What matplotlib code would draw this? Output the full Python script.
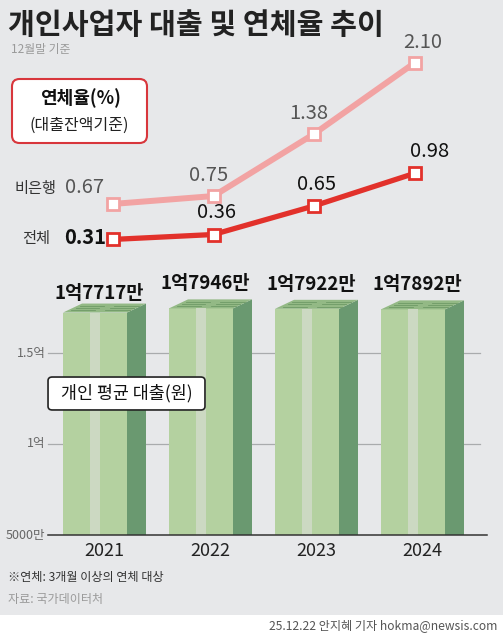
import matplotlib
matplotlib.use("Agg")
import matplotlib.pyplot as plt
from matplotlib.patches import Rectangle, Polygon, FancyBboxPatch

# ---------------- data ----------------
years = ["2021", "2022", "2023", "2024"]
loan_eok = [1.7717, 1.7946, 1.7922, 1.7892]          # 억 원
loan_labels = ["1억7717만", "1억7946만", "1억7922만", "1억7892만"]
rate_nonbank = [0.67, 0.75, 1.38, 2.10]
rate_total = [0.31, 0.36, 0.65, 0.98]
rate_nonbank_lbl = ["0.67", "0.75", "1.38", "2.10"]
rate_total_lbl = ["0.31", "0.36", "0.65", "0.98"]
ytick_vals = [0.5, 1.0, 1.5]
ytick_lbls = ["5000만", "1억", "1.5억"]

KR = ["Noto Sans CJK KR", "DejaVu Sans"]
plt.rcParams["font.family"] = KR

BG = "#e7e8ea"
W, H = 503, 637
fig = plt.figure(figsize=(W / 100, H / 100), dpi=100, facecolor=BG)

# white footer band
fig.patches.append(Rectangle((0, 0), 1, 22 / H, transform=fig.transFigure,
                             facecolor="white", edgecolor="none", zorder=0))

# ---------------- bar axes ----------------
px_per_unit = 106.0
x0 = -104.5 / px_per_unit
x1 = (W - 104.5) / px_per_unit
bot_px, top_px = 535, 271
axb = fig.add_axes([0, 1 - bot_px / H, 1, (bot_px - top_px) / H])
axb.set_facecolor("none")
ylo = 0.5
yhi = ylo + (bot_px - top_px) / 182.0
axb.set_xlim(x0, x1)
axb.set_ylim(ylo, yhi)
for s in axb.spines.values():
    s.set_visible(False)
axb.set_xticks([])
axb.set_yticks([])

front_w = 64 / px_per_unit
side_w = 19 / px_per_unit
depth = 9 / 182.0
stripe_l = 27 / px_per_unit
stripe_w = 10 / px_per_unit

# gridlines
for v in ytick_vals[1:]:
    axb.plot([-57 / px_per_unit, (480 - 104.5) / px_per_unit], [v, v],
             color="#a9abad", lw=0.9, zorder=1)

for i, v in enumerate(loan_eok):
    left = i - (front_w + side_w) / 2
    ftop = v - depth
    axb.add_patch(Rectangle((left, ylo), front_w, ftop - ylo,
                            facecolor="#b4d1a0", edgecolor="none", zorder=2))
    axb.add_patch(Rectangle((left + stripe_l, ylo), stripe_w, ftop - ylo,
                            facecolor="#ccd9c2", edgecolor="none", zorder=3))
    axb.add_patch(Polygon([(left + front_w, ylo), (left + front_w + side_w, ylo),
                           (left + front_w + side_w, v), (left + front_w, ftop)],
                          closed=True, facecolor="#6a9970", edgecolor="none", zorder=2))
    axb.add_patch(Polygon([(left, ftop), (left + front_w, ftop),
                           (left + front_w + side_w, v), (left + side_w, v)],
                          closed=True, facecolor="#93b985", edgecolor="none", zorder=2))
    # money texture on top
    for k in range(1, 4):
        f = k / 4
        axb.plot([left + side_w * f + 0.03, left + front_w * 0.42 + side_w * f],
                 [ftop + depth * f, ftop + depth * f], color="#6f9a66", lw=0.6, zorder=3)
        axb.plot([left + front_w * 0.58 + side_w * f, left + front_w + side_w * f - 0.02],
                 [ftop + depth * f, ftop + depth * f], color="#6f9a66", lw=0.6, zorder=3)
    axb.text(i - 0.05 + (0.0 if i == 0 else 0), v + 0.085 - (0.03 if i == 0 else 0),
             loan_labels[i], ha="center", va="center", fontsize=13.5,
             fontweight="bold", color="#111", zorder=5)
    axb.text(i, ylo - 0.09, years[i], ha="center", va="center", fontsize=13,
             color="#222")

# axis line and tick labels
axb.plot([-57 / px_per_unit, (487 - 104.5) / px_per_unit], [ylo, ylo],
         color="#333", lw=1.1, zorder=4, clip_on=False)
for v, t in zip(ytick_vals, ytick_lbls):
    axb.text(-59 / px_per_unit, v, t, ha="right", va="center", fontsize=9,
             color="#666")

axb.add_patch(FancyBboxPatch((-57 / px_per_unit + 0.005, 1.187), 158 / px_per_unit - 0.01, 0.181,
                             boxstyle="round,pad=0,rounding_size=0.04",
                             facecolor="white", edgecolor="#222", lw=1.2, zorder=6,
                             mutation_aspect=0.5))
axb.text((-57 + 79) / px_per_unit, 1.277, "개인 평균 대출(원)", ha="center", va="center",
         fontsize=12.5, color="#111", zorder=7)

# ---------------- line axes ----------------
lx_px = 100.5
lx0 = -113 / lx_px
lx1 = (W - 113) / lx_px
ltop_px, lbot_px = 40, 262
axl = fig.add_axes([0, 1 - lbot_px / H, 1, (lbot_px - ltop_px) / H])
axl.set_facecolor("none")
axl.set_xlim(lx0, lx1)
vy = lambda px: (270 - px) / 98.6
axl.set_ylim(vy(lbot_px), vy(ltop_px))
axl.axis("off")
xs = list(range(len(years)))
axl.plot(xs, rate_nonbank, color="#f2a3a3", lw=4.3, marker="s", ms=9,
         mfc="white", mec="#f2a3a3", mew=2, zorder=3)
axl.plot(xs, rate_total, color="#e2312b", lw=3.8, marker="s", ms=9,
         mfc="white", mec="#e2312b", mew=2, zorder=4)

# value labels
LBL = 14.5
axl.text(-0.28, rate_nonbank[0] + 0.17, rate_nonbank_lbl[0], ha="center", va="center",
         fontsize=LBL, color="#555")
for i in range(1, 4):
    axl.text(xs[i] + (0.08 if i == 3 else -0.05), rate_nonbank[i] + 0.21, rate_nonbank_lbl[i],
             ha="center", va="center", fontsize=LBL, color="#555")
axl.text(-0.28, rate_total[0] + 0.02, rate_total_lbl[0], ha="center", va="center",
         fontsize=LBL, color="#111", fontweight="bold")
for i in range(1, 4):
    axl.text(xs[i] + (0.15 if i == 3 else 0.03), rate_total[i] + 0.22, rate_total_lbl[i],
             ha="center", va="center", fontsize=LBL, color="#111")
axl.text(-0.98, rate_nonbank[0] + 0.16, "비은행", ha="left", va="center",
         fontsize=11, color="#333")
axl.text(-0.90, rate_total[0] + 0.01, "전체", ha="left", va="center",
         fontsize=11, color="#333")

# ---------------- titles / legend box ----------------
fig.text(8 / W, 1 - 25 / H, "개인사업자 대출 및 연체율 추이", ha="left", va="center",
         fontsize=21, fontweight="bold", color="#222")
fig.text(11 / W, 1 - 50 / H, "12월말 기준", ha="left", va="center",
         fontsize=8.5, color="#9a9a9a")
fig.patches.append(FancyBboxPatch((12 / W, 1 - 143 / H), 135 / W, 64 / H,
                                  boxstyle="round,pad=0,rounding_size=0.015",
                                  transform=fig.transFigure, facecolor="white",
                                  edgecolor="#d8363c", lw=1.5, zorder=2,
                                  mutation_aspect=W / H))
fig.text(80 / W, 1 - 98 / H, "연체율(%)", ha="center", va="center",
         fontsize=13, fontweight="bold", color="#111", zorder=3)
fig.text(79 / W, 1 - 125 / H, "(대출잔액기준)", ha="center", va="center",
         fontsize=11.5, color="#222", zorder=3)

# ---------------- footer ----------------
fig.text(8 / W, 1 - 578 / H, "※연체: 3개월 이상의 연체 대상", ha="left", va="center",
         fontsize=8.7, color="#333")
fig.text(8 / W, 1 - 600 / H, "자료: 국가데이터처", ha="left", va="center",
         fontsize=8.7, color="#9a9a9a")
fig.text(497 / W, 1 - 626 / H, "25.12.22 안지혜 기자 hokma@newsis.com", ha="right",
         va="center", fontsize=8.7, color="#555")

fig.savefig("out.png", dpi=100, facecolor=BG)
